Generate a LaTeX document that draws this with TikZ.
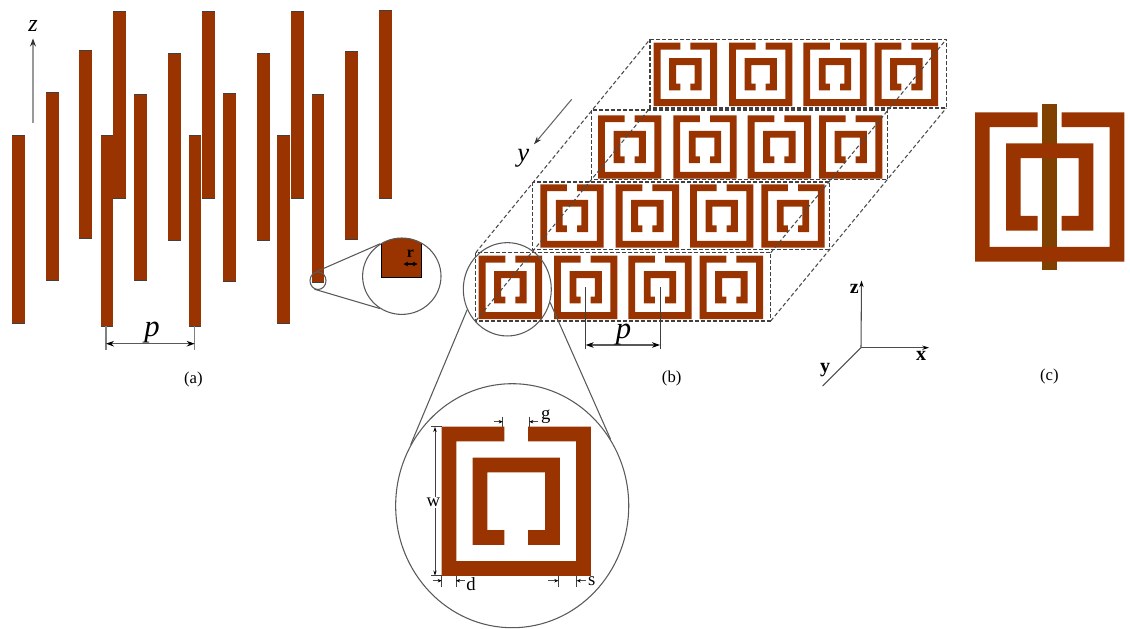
\documentclass[tikz,border=0pt]{standalone}
\usepackage{fontspec}
\setmainfont{Liberation Serif}
\usetikzlibrary{arrows.meta,shapes.geometric}
\definecolor{srrbrown}{HTML}{993300}
\definecolor{barbrown}{HTML}{804000}
\newcommand{\fs}[1]{\fontsize{#1}{#1}\selectfont}
\newcommand{\rod}[4]{%
  \fill[srrbrown] (#1,#3) rectangle (#2,#4);
  \draw[rodedge] (#1,#3) -- (#2,#3);
  \draw[rodedge] (#1,#4) -- (#2,#4);
}
% x, y, width, inset of inner ring, band thickness
\newcommand{\srr}[5]{%
  \begin{scope}[shift={(#1,#2)},scale=#3]
    \def\dd{#5}\def\gl{0.42}\def\gr{0.58}\def\ia{#4}
    \pgfmathsetmacro{\ib}{1-#4}
    \fill[srrbrown] (\gl,0) -- (0,0) -- (0,1) -- (1,1) -- (1,0) -- (\gr,0) -- (\gr,\dd) -- (1-\dd,\dd) -- (1-\dd,1-\dd) -- (\dd,1-\dd) -- (\dd,\dd) -- (\gl,\dd) -- cycle;
    \fill[srrbrown] (\gl,\ib) -- (\ia,\ib) -- (\ia,\ia) -- (\ib,\ia) -- (\ib,\ib) -- (\gr,\ib) -- (\gr,\ib-\dd) -- (\ib-\dd,\ib-\dd) -- (\ib-\dd,\ia+\dd) -- (\ia+\dd,\ia+\dd) -- (\ia+\dd,\ib-\dd) -- (\gl,\ib-\dd) -- cycle;
  \end{scope}%
}
\tikzset{
  rodedge/.style={draw=black!75,line width=0.6pt},
  dashbox/.style={draw=black!75,line width=0.8pt,dash pattern=on 3pt off 1.5pt},
  dashdiag/.style={draw=black!70,line width=0.8pt,dash pattern=on 3pt off 1.8pt},
  lens/.style={ellipse,draw=black!65,line width=0.8pt,inner sep=0pt,fill=none},
  lensline/.style={draw=black!65,line width=0.8pt},
  dimline/.style={draw=black!75,line width=0.6pt},
  dimgrey/.style={draw=black!50,line width=0.9pt},
  dimarrow/.style={draw=black!65,line width=0.8pt,{Stealth[length=6pt,width=4.2pt,black]}-{Stealth[length=6pt,width=4.2pt,black]}},
  onearrow/.style={draw=black!70,line width=0.6pt,-{Stealth[length=3pt,width=2.6pt,black]}},
  axisarrow/.style={draw=black!70,line width=0.8pt,-{Stealth[length=5pt,width=3.2pt,black]}},
  lbl/.style={inner sep=0pt,text=black},
}
\begin{document}
\begin{tikzpicture}[x=0.75pt,y=-0.75pt]
\useasboundingbox (0,0) rectangle (1130,628);
% ---------- (a) wire array
\rod{12}{24.7}{135}{323.5}
\rod{46}{58.7}{92.3}{280.5}
\rod{79.3}{91.8}{50.3}{238.5}
\rod{113.3}{126.3}{11}{198.5}
\rod{100.7}{112.7}{135}{326.5}
\rod{134}{146.7}{94.3}{280.5}
\rod{168.3}{181}{53}{240}
\rod{202.3}{215}{11}{198.5}
\rod{188.7}{201.3}{135}{326.5}
\rod{223}{235.7}{93.3}{281.7}
\rod{257}{269.7}{53}{240}
\rod{291.3}{304}{11}{198.5}
\rod{277.3}{290}{135}{323.5}
\rod{311.7}{324.3}{94.3}{282.3}
\rod{345}{357.7}{51}{239.3}
\rod{379}{391.7}{10}{198.5}
% z arrow
\coordinate (zfoot) at (33,123);
\coordinate (ztip) at (33,38.5);
\draw[draw=black!40,line width=0.9pt,-{Stealth[length=6pt,width=4.5pt,black!80]}] (zfoot) -- (ztip);
\node[lbl] (zlabel) at (33,26) {\fs{18}\itshape z};
% p dimension (a)
\coordinate (pa1) at (106,326);
\coordinate (pa1b) at (106,350);
\coordinate (pa2) at (194.7,326);
\coordinate (pa2b) at (194.7,350);
\coordinate (pa1m) at (106,343.7);
\coordinate (pa2m) at (194.7,343.7);
\draw[dimgrey] (pa1) -- (pa1b);
\draw[dimgrey] (pa2) -- (pa2b);
\draw[dimarrow] (pa1m) -- (pa2m);
\node[lbl] (plabela) at (152,333) {\fs{23}\itshape p};
\node[lbl] (capa) at (193.3,379) {\fs{12.5}(a)};
% magnifier (a)
\node[lens,minimum width=12pt,minimum height=13.2pt] (smalla) at (318,280.7) {};
\begin{scope}
  \clip (401.8,276.2) ellipse [x radius=39.2,y radius=38.2];
  \fill[srrbrown,draw=black,line width=0.5pt] (381.3,220) rectangle (421.7,277.3);
\end{scope}
\node[lens,minimum width=58.8pt,minimum height=57.3pt] (biga) at (401.8,276.2) {};
\draw[lensline] (smalla.99) -- (biga.124);
\draw[lensline] (smalla.248) -- (biga.236);
\node[lbl,font=\bfseries] (rlabel) at (410.3,254) {\fs{12}r};
\coordinate (r1) at (403.5,264);
\coordinate (r2) at (417.5,264);
\draw[draw=black,line width=0.8pt,{Stealth[length=3.5pt,width=3.5pt]}-{Stealth[length=3.5pt,width=3.5pt]}] (r1) -- (r2);
% ---------- (b) SRR array
\foreach \ux/\uy in {478.7/255.7,554/255.7,628.3/255.7,699.7/255.7,
                     540.3/184.3,615.7/184.3,690/184.3,761.3/184.3,
                     598/115.3,673.3/115.3,747.7/115.3,819/115.3,
                     653.7/42.7,729/42.7,803.3/42.7,874.7/42.7}{
  \srr{\ux}{\uy}{63.3}{0.245}{0.108}
}
\draw[dashbox] (475.7,252.7) rectangle (770.7,321);
\draw[dashbox] (532.7,182) rectangle (829.3,249.3);
\draw[dashbox] (591.3,110) rectangle (887.7,179.3);
\draw[dashbox] (650,39.3) rectangle (946.3,108);
\coordinate (bl1) at (475.7,252.7);
\coordinate (bl2) at (650,39.3);
\coordinate (br1) at (770.7,321);
\coordinate (br2) at (946.3,108);
\coordinate (bm1) at (475.7,321);
\coordinate (bm2) at (650,108);
\coordinate (bn1) at (770.7,252.7);
\coordinate (bn2) at (946.3,39.3);
\draw[dashdiag] (bl1) -- (bl2);
\draw[dashdiag] (br1) -- (br2);
\draw[dashdiag] (bm1) -- (bm2);
\draw[dashdiag] (bn1) -- (bn2);
% y arrow
\coordinate (ybase) at (571.7,99.3);
\coordinate (ytip) at (534,144.3);
\draw[draw=black!60,line width=0.8pt,-{Stealth[length=6pt,width=4pt,black!80]}] (ybase) -- (ytip);
\node[lbl] (ylabel) at (523.3,158.3) {\fs{20}\itshape y};
% p dimension (b)
\coordinate (pb1) at (585.7,287.3);
\coordinate (pb1b) at (585.7,349.3);
\coordinate (pb2) at (660,287.3);
\coordinate (pb2b) at (660,349.3);
\coordinate (pb1m) at (585.7,345);
\coordinate (pb2m) at (660,345);
\draw[dimline] (pb1) -- (pb1b);
\draw[dimline] (pb2) -- (pb2b);
\draw[dimarrow] (pb1m) -- (pb2m);
\node[lbl] (plabelb) at (623.5,335) {\fs{23}\itshape p};
\node[lbl] (capb) at (671.7,378.3) {\fs{12.5}(b)};
% axes
\coordinate (o) at (861,347.7);
\coordinate (axz) at (861.5,280.5);
\coordinate (axx) at (929,347.7);
\coordinate (axy) at (822.7,386);
\draw[axisarrow] (o) -- (axz);
\draw[axisarrow] (o) -- (axx);
\draw[draw=black!70,line width=0.8pt] (o) -- (axy);
\node[lbl,font=\bfseries] (axzl) at (854.3,289) {\fs{15}z};
\node[lbl,font=\bfseries] (axxl) at (921,356) {\fs{15}x};
\node[lbl,font=\bfseries] (axyl) at (825,370.5) {\fs{15}y};
% ---------- magnified SRR
\srr{441.7}{426.7}{149.2}{0.2076}{0.0985}
\node[lens,minimum width=174.8pt,minimum height=183pt] (smallwrap) at (512.2,505.7) {};
\node[lens,minimum width=66pt,minimum height=70pt] (smallb) at (507.3,289.3) {};
\draw[lensline] (smallb.207) -- (smallwrap.149);
\draw[lensline] (smallb.343) -- (smallwrap.34.7);
% g
\coordinate (g1a) at (502.7,416.5); \coordinate (g1b) at (502.7,426.7);
\coordinate (g2a) at (529.3,416.5); \coordinate (g2b) at (529.3,426.7);
\coordinate (g1s) at (494,421.7); \coordinate (g1e) at (502.7,421.7);
\coordinate (g2s) at (538.3,421.7); \coordinate (g2e) at (529.3,421.7);
\draw[dimline] (g1a) -- (g1b); \draw[dimline] (g2a) -- (g2b);
\draw[onearrow] (g1s) -- (g1e); \draw[onearrow] (g2s) -- (g2e);
\node[lbl] (glabel) at (545.7,417) {\fs{14}g};
% w
\coordinate (w1a) at (431,426.7); \coordinate (w1b) at (441.7,426.7);
\coordinate (w2a) at (431,575.7); \coordinate (w2b) at (441.7,575.7);
\coordinate (wt) at (435,426.7); \coordinate (wb) at (435,575.7);
\draw[dimline] (w1a) -- (w1b); \draw[dimline] (w2a) -- (w2b);
\draw[draw=black!75,line width=0.7pt,{Stealth[length=4pt,width=2.5pt,black]}-{Stealth[length=4pt,width=2.5pt,black]}] (wt) -- (wb);
\node[lbl,fill=white,inner ysep=1pt] (wlabel) at (433.3,502.3) {\fs{14}w};
% d
\coordinate (d1a) at (441.7,576); \coordinate (d1b) at (441.7,587);
\coordinate (d2a) at (456,576); \coordinate (d2b) at (456,587);
\coordinate (d1s) at (432.7,580.7); \coordinate (d1e) at (441.7,580.7);
\coordinate (d2s) at (465,580.7); \coordinate (d2e) at (456,580.7);
\draw[dimline] (d1a) -- (d1b); \draw[dimline] (d2a) -- (d2b);
\draw[onearrow] (d1s) -- (d1e); \draw[onearrow] (d2s) -- (d2e);
\node[lbl] (dlabel) at (471,584) {\fs{14}d};
% s
\coordinate (s1a) at (558.3,576); \coordinate (s1b) at (558.3,587);
\coordinate (s2a) at (576.7,576); \coordinate (s2b) at (576.7,587);
\coordinate (s1s) at (548.3,580.7); \coordinate (s1e) at (558.3,580.7);
\coordinate (s2s) at (585.7,580.7); \coordinate (s2e) at (576.7,580.7);
\draw[dimline] (s1a) -- (s1b); \draw[dimline] (s2a) -- (s2b);
\draw[onearrow] (s1s) -- (s1e); \draw[onearrow] (s2s) -- (s2e);
\node[lbl] (slabel) at (591.7,581.5) {\fs{14}s};
% ---------- (c)
\fill[barbrown] (1042.3,103.7) rectangle (1057,270);
\srr{975}{112.3}{149.3}{0.2076}{0.0985}
\node[lbl] (capc) at (1049.3,376.7) {\fs{12.5}(c)};
\end{tikzpicture}
\end{document}
